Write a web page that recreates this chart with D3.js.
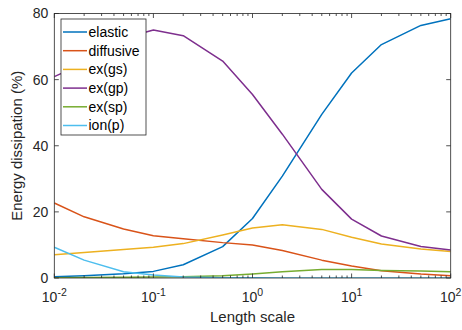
<!DOCTYPE html>
<html><head><meta charset="utf-8">
<script src="https://cdn.jsdelivr.net/npm/d3@7"></script>
<style>body{margin:0;background:#fff}svg{display:block;font-family:"Liberation Sans",Arial,sans-serif}</style>
</head><body><svg id="c" width="462" height="330"></svg>
<script>
const lengthScale = [0.01,0.02,0.05,0.1,0.2,0.5,1,2,5,10,20,50,100];
const seriesNames = ["elastic","diffusive","ex(gs)","ex(gp)","ex(sp)","ion(p)"];
const elastic   = [0.4,0.7,1.3,2.0,4.0,9.5,18,30.8,49.5,62,70.6,76.4,78.4];
const diffusive = [22.7,18.5,14.8,12.8,11.9,10.7,10,8.3,5.4,3.6,2.2,1.2,0.7];
const exGs      = [7,7.7,8.6,9.3,10.4,13,15.1,16.1,14.7,12.3,10.3,8.8,8];
const exGp      = [60.9,65,72.5,75,73.3,65.6,55.5,43.5,26.8,17.8,12.7,9.5,8.5];
const exSp      = [0.1,0.15,0.2,0.3,0.4,0.7,1.2,1.9,2.6,2.6,2.3,2.1,1.9];
const ionP      = [9.3,5.4,1.9,0.9,0.3,0.1,0.05,0,0,0,0,0,0];
const yTicks = [0,20,40,60,80];
const xTicks = [0.01,0.1,1,10,100];
const xLabel = "Length scale", yLabel = "Energy dissipation (%)";
const colors = ["#0072BD","#D95319","#EDB120","#7E2F8E","#77AC30","#4DBEEE"];
const allSeries = [elastic,diffusive,exGs,exGp,exSp,ionP];

const L=54.3,R=450.7,T=13.5,B=278;
const svg=d3.select("#c");
const x=d3.scaleLog().domain([0.01,100]).range([L,R]);
const y=d3.scaleLinear().domain([0,80]).range([B,T]);
const axc="#262626";

svg.append("clipPath").attr("id","clip").append("rect").attr("x",L).attr("y",T).attr("width",R-L).attr("height",B-T);
const g=svg.append("g").attr("clip-path","url(#clip)");
const line=d3.line().x((d,i)=>x(lengthScale[i])).y(d=>y(d));
allSeries.forEach((s,k)=>{
  g.append("path").attr("d",line(s)).attr("fill","none").attr("stroke",colors[k]).attr("stroke-width",1.5).attr("stroke-linejoin","round");
});

const minor=[];
for(let e=-2;e<2;e++) for(let m=2;m<=9;m++) minor.push(m*Math.pow(10,e));
const tk=svg.append("g").attr("stroke",axc).attr("stroke-width",0.8);
minor.forEach(v=>{
  tk.append("line").attr("x1",x(v)).attr("x2",x(v)).attr("y1",B).attr("y2",B-2.5);
  tk.append("line").attr("x1",x(v)).attr("x2",x(v)).attr("y1",T).attr("y2",T+2.5);
});
xTicks.forEach(v=>{
  tk.append("line").attr("x1",x(v)).attr("x2",x(v)).attr("y1",B).attr("y2",B-4.5);
  tk.append("line").attr("x1",x(v)).attr("x2",x(v)).attr("y1",T).attr("y2",T+4.5);
});
yTicks.forEach(v=>{
  tk.append("line").attr("x1",L).attr("x2",L+4.5).attr("y1",y(v)).attr("y2",y(v));
  tk.append("line").attr("x1",R).attr("x2",R-4.5).attr("y1",y(v)).attr("y2",y(v));
});
svg.append("rect").attr("x",L).attr("y",T).attr("width",R-L).attr("height",B-T).attr("fill","none").attr("stroke",axc).attr("stroke-width",0.8);

yTicks.forEach(v=>{
  svg.append("text").attr("x",L-6).attr("y",y(v)).attr("dy","0.35em").attr("text-anchor","end").attr("font-size",14).attr("fill",axc).text(v);
});
xTicks.forEach(v=>{
  const e=Math.round(Math.log10(v));
  const t=svg.append("text").attr("x",x(v)).attr("y",302).attr("text-anchor","middle").attr("font-size",14).attr("fill",axc);
  t.append("tspan").text("10");
  t.append("tspan").attr("dy",-6).attr("font-size",10.5).text(e);
});
svg.append("text").attr("x",(L+R)/2).attr("y",322).attr("text-anchor","middle").attr("font-size",15).attr("fill",axc).text(xLabel);
svg.append("text").attr("transform",`translate(22,${(T+B)/2}) rotate(-90)`).attr("text-anchor","middle").attr("font-size",15).attr("fill",axc).text(yLabel);

const lg=svg.append("g");
lg.append("rect").attr("x",61).attr("y",19).attr("width",85).attr("height",116).attr("fill","#fff").attr("stroke",axc).attr("stroke-width",0.8);
seriesNames.forEach((n,k)=>{
  const yy=32+k*18.7;
  lg.append("line").attr("x1",63).attr("x2",87).attr("y1",yy).attr("y2",yy).attr("stroke",colors[k]).attr("stroke-width",1.5);
  lg.append("text").attr("x",88.5).attr("y",yy).attr("dy","0.35em").attr("font-size",14).attr("fill","#000").text(n);
});
</script></body></html>
